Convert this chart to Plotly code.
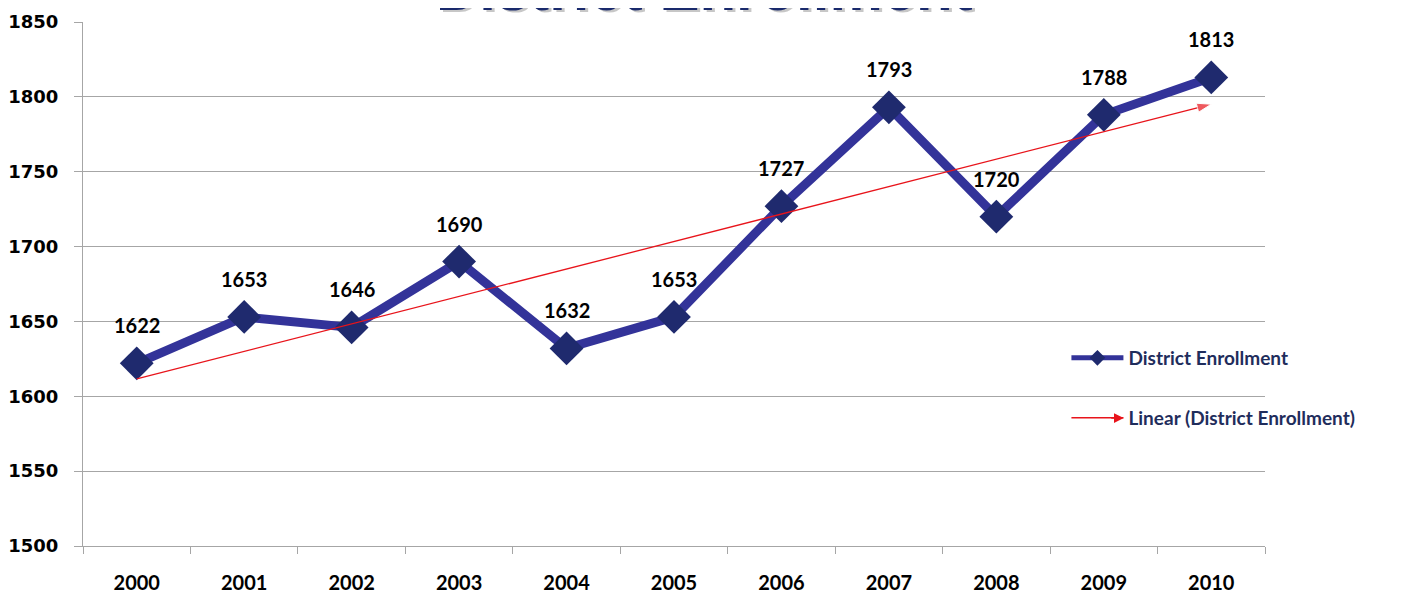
import plotly.graph_objects as go
import numpy as np

years = ["2000", "2001", "2002", "2003", "2004", "2005", "2006", "2007", "2008", "2009", "2010"]
enrollment = [1622, 1653, 1646, 1690, 1632, 1653, 1727, 1793, 1720, 1788, 1813]
y_ticks = [1500, 1550, 1600, 1650, 1700, 1750, 1800, 1850]
title_text = "District Enrollment"
series_name = "District Enrollment"
trend_name = "Linear (District Enrollment)"

# linear trendline (least squares) from the data
idx = np.arange(len(years))
slope, intercept = np.polyfit(idx, enrollment, 1)
trend_x = [0, len(years) - 1]
trend_y = [intercept, intercept + slope * (len(years) - 1)]

navy = "#1f2d5c"
grid = "#a6a6a6"
red = "#e8141b"

fig = go.Figure()

fig.add_trace(go.Scatter(
    x=idx, y=enrollment, mode="lines+markers", name=series_name,
    line=dict(color="#333399", width=9),
    marker=dict(symbol="diamond", size=26, color="#1f2a6e", line=dict(width=0)),
    legend="legend",
))

fig.add_trace(go.Scatter(
    x=trend_x, y=trend_y, mode="lines+markers", name=trend_name,
    line=dict(color=red, width=1.3),
    marker=dict(symbol="arrow", size=[0, 15], angleref="previous", color=red),
    showlegend=False,
))
# legend entry for the trendline
fig.add_trace(go.Scatter(
    x=[None], y=[None], mode="lines", name=trend_name,
    line=dict(color=red, width=1.5), legend="legend2",
))

for i, v in zip(idx, enrollment):
    fig.add_annotation(
        x=int(i), y=v, text=str(v), showarrow=False, yshift=38,
        font=dict(family="Lato", size=20, color="black", weight="bold"),
    )

# arrowhead on the trendline legend symbol
leg_x = 0.832
leg2_y = (538 - 410) / 524
fig.add_annotation(
    xref="paper", yref="paper", x=0.8805, y=leg2_y, ax=-14, ay=0,
    text="", showarrow=True, arrowhead=2, arrowsize=1.3, arrowwidth=1.5, arrowcolor=red,
)

# title (partially above the page, as in the reference)
title_x = (697 - 75) / 1182
fig.add_annotation(
    xref="paper", yref="paper", x=title_x, y=1, xanchor="center", yanchor="bottom",
    text=title_text, showarrow=False, yshift=-5, xshift=3,
    font=dict(family="Liberation Sans", size=60, color="rgba(0,0,0,0.22)", weight="bold"),
)
fig.add_annotation(
    xref="paper", yref="paper", x=title_x, y=1, xanchor="center", yanchor="bottom",
    text=title_text, showarrow=False, yshift=-3,
    font=dict(family="Liberation Sans", size=60, color="#1a2a6c", weight="bold"),
)

fig.update_layout(
    width=1402, height=585,
    margin=dict(l=75, r=145, t=14, b=47),
    paper_bgcolor="white", plot_bgcolor="white",
    showlegend=True,
    legend=dict(
        x=leg_x, y=(538 - 350) / 524, xanchor="left", yanchor="middle",
        font=dict(family="Lato", size=19, color=navy, weight="bold"),
        bgcolor="rgba(0,0,0,0)", itemsizing="constant", itemwidth=52,
    ),
    legend2=dict(
        x=leg_x, y=leg2_y, xanchor="left", yanchor="middle",
        font=dict(family="Lato", size=19, color=navy, weight="bold"),
        bgcolor="rgba(0,0,0,0)", itemwidth=52,
    ),
    xaxis=dict(
        range=[-0.5, len(years) - 0.5],
        tickmode="array", tickvals=idx, ticktext=years,
        ticks="", showline=True, linecolor=grid, showgrid=False, zeroline=False,
        minor=dict(tickmode="linear", tick0=-0.5, dtick=1, ticks="outside",
                   ticklen=7, tickcolor=grid, showgrid=False),
        tickfont=dict(family="Lato", size=20, color="black", weight="bold"),
        ticklabelstandoff=19, automargin=False,
    ),
    yaxis=dict(
        range=[1500, 1850], tickvals=y_ticks,
        showgrid=True, gridcolor=grid, zeroline=False,
        ticks="outside", ticklen=8, tickcolor=grid,
        showline=True, linecolor=grid,
        tickfont=dict(family="DejaVu Sans", size=18, color="black", weight="bold"),
        ticklabelstandoff=12, automargin=False,
    ),
)

fig.write_html("out.html")
